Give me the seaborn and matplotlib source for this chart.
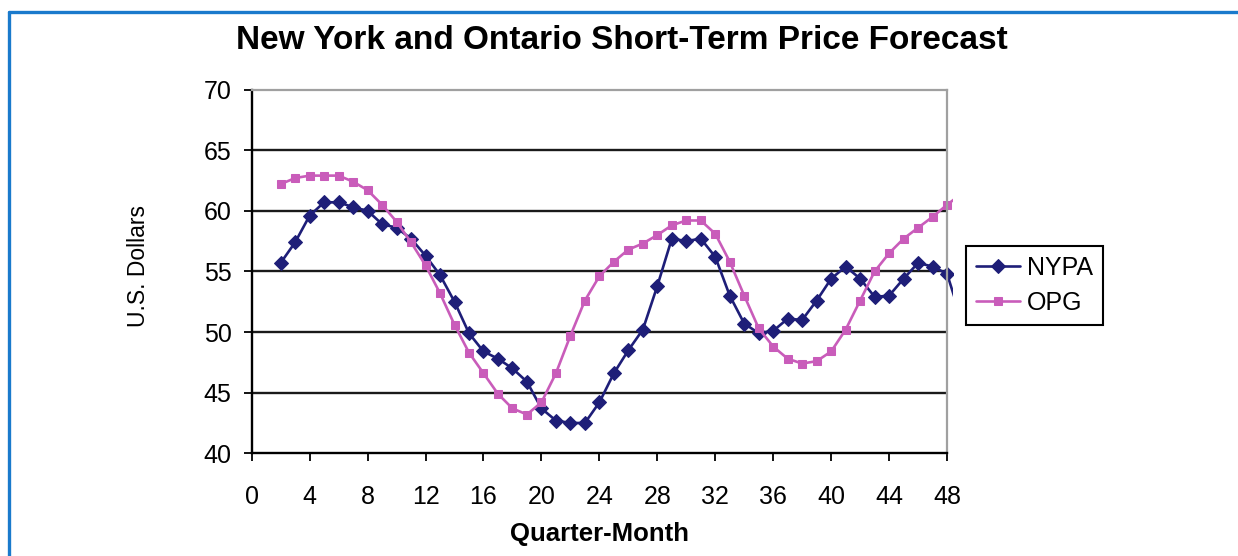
import matplotlib
matplotlib.use("Agg")
import matplotlib.pyplot as plt
from matplotlib.lines import Line2D
from matplotlib.transforms import Bbox, TransformedBbox
import pandas as pd
import seaborn as sns

# values (quarter-month 2..49, last point lies past the axis)
quarter_month = list(range(2, 50))
nypa = [55.7, 57.4, 59.6, 60.7, 60.7, 60.3, 60.0, 58.9, 58.6, 57.7, 56.3, 54.7,
        52.5, 49.9, 48.4, 47.8, 47.0, 45.9, 43.7, 42.7, 42.5, 42.5, 44.2, 46.6,
        48.5, 50.2, 53.8, 57.7, 57.5, 57.7, 56.2, 53.0, 50.7, 49.9, 50.1, 51.1,
        51.0, 52.6, 54.4, 55.4, 54.4, 52.9, 53.0, 54.4, 55.7, 55.4, 54.8, 51.0]
opg = [62.2, 62.7, 62.9, 62.9, 62.9, 62.4, 61.7, 60.5, 59.1, 57.4, 55.5, 53.2,
       50.6, 48.3, 46.6, 44.9, 43.7, 43.2, 44.2, 46.6, 49.7, 52.6, 54.6, 55.8,
       56.8, 57.3, 58.0, 58.8, 59.2, 59.2, 58.1, 55.8, 53.0, 50.3, 48.8, 47.8,
       47.4, 47.6, 48.4, 50.2, 52.6, 55.0, 56.5, 57.7, 58.6, 59.5, 60.5, 61.4]
x_ticks = list(range(0, 49, 4))
y_ticks = list(range(40, 71, 5))

NAVY = "#1e1e78"
PINK = "#c95cba"

sns.set_style("white")
plt.rcParams["font.family"] = ["Liberation Sans", "DejaVu Sans"]
plt.rcParams["text.color"] = "black"
plt.rcParams["axes.labelcolor"] = "black"

df = pd.DataFrame({"Quarter-Month": quarter_month, "NYPA": nypa, "OPG": opg})

fig = plt.figure(figsize=(12.38, 5.56), dpi=100)
ax = fig.add_axes([0.2033, 0.1847, 0.5617, 0.6543])

sns.lineplot(data=df, x="Quarter-Month", y="NYPA", ax=ax, color=NAVY, lw=1.9,
             marker="D", markersize=7.5, markeredgecolor=NAVY, label="NYPA")
sns.lineplot(data=df, x="Quarter-Month", y="OPG", ax=ax, color=PINK, lw=1.9,
             marker="s", markersize=6.2, markeredgecolor=PINK, label="OPG")

ax.set_xlim(0, 48)
ax.set_ylim(40, 70)
ax.set_xticks(x_ticks)
ax.set_yticks(y_ticks)

# lines run a little past the right edge, like the original
clip = TransformedBbox(Bbox([[-1, 39], [48.4, 71]]), ax.transData)
for ln in ax.lines:
    ln.set_clip_path(None)
    ln.set_clip_box(clip)

# horizontal grid (top edge stays grey)
ax.hlines(y_ticks[1:-1], 0, 48, colors="#1a1a1a", lw=1.7, zorder=1)

for side in ["left", "bottom"]:
    ax.spines[side].set_color("black")
    ax.spines[side].set_linewidth(1.7)
for side in ["top", "right"]:
    ax.spines[side].set_visible(True)
    ax.spines[side].set_color("#a0a0a0")
    ax.spines[side].set_linewidth(1.6)

ax.tick_params(axis="y", direction="inout", length=11, width=1.3, pad=9,
               labelsize=18, colors="black", left=True)
ax.tick_params(axis="x", direction="out", length=6, width=1.3, pad=17,
               labelsize=18, colors="black", bottom=True)

ax.set_xlabel("Quarter-Month", fontsize=18.5, fontweight="bold")
ax.xaxis.set_label_coords(0.5, -0.19)
ax.set_ylabel("U.S. Dollars", fontsize=16.5)
ax.yaxis.set_label_coords(-0.146, 0.515)

leg = ax.legend(loc="upper left", bbox_to_anchor=(1.027, 0.57), fontsize=18,
                frameon=True, fancybox=False, edgecolor="black", framealpha=1,
                borderaxespad=0, handlelength=1.75, handletextpad=0.3,
                labelspacing=0.45, borderpad=0.4)
leg.get_frame().set_linewidth(1.5)

fig.text(0.502, 0.928, "New York and Ontario Short-Term Price Forecast",
         ha="center", va="center", fontsize=24, fontweight="bold")

# blue frame around the figure
fig.add_artist(Line2D([0.0069, 1.0], [0.9793, 0.9793], transform=fig.transFigure,
                      color="#1a7acc", lw=2.4))
fig.add_artist(Line2D([0.0069, 0.0069], [0.0, 0.9793], transform=fig.transFigure,
                      color="#1a7acc", lw=2.4))

fig.savefig("out.png", dpi=100)
